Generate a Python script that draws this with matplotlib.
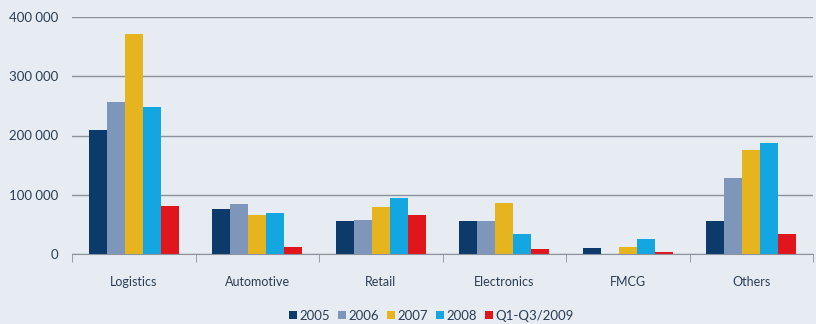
import numpy as np
import matplotlib
matplotlib.use("Agg")
import matplotlib.pyplot as plt
from matplotlib.ticker import FuncFormatter

# volumes by sector and year
sectors = ["Logistics", "Automotive", "Retail", "Electronics", "FMCG", "Others"]
years = ["2005", "2006", "2007", "2008", "Q1-Q3/2009"]
v2005 = [209000, 76000, 55000, 56000, 10500, 56000]
v2006 = [256000, 84000, 57000, 55000, 0, 129000]
v2007 = [371000, 66000, 79000, 86000, 12000, 175000]
v2008 = [248000, 69000, 94000, 34000, 26000, 188000]
v2009 = [81000, 12000, 66000, 8000, 3000, 33000]
series = [v2005, v2006, v2007, v2008, v2009]
colors = ["#0b3a6b", "#7f96bb", "#e5b41f", "#13a6e1", "#e0161c"]

bg = "#e6ecf2"
txt = "#2b3d55"
plt.rcParams['font.family'] = ['Lato', 'DejaVu Sans']

fig = plt.figure(figsize=(8.16, 3.24), dpi=100, facecolor=bg)
ax = fig.add_axes([72/816, 1-254/324, 741/816, 237/324], facecolor=bg)

x = np.arange(len(sectors))
w = 0.145
for i, (vals, c, lab) in enumerate(zip(series, colors, years)):
    ax.bar(x + (i - 2) * w, vals, width=w, color=c, label=lab, zorder=3)

ax.set_ylim(0, 400000)
ax.set_xlim(-0.5, len(sectors) - 0.5)
ax.set_yticks([0, 100000, 200000, 300000, 400000])
ax.yaxis.set_major_formatter(FuncFormatter(lambda v, p: f"{int(v):,}".replace(",", " ")))
ax.grid(axis="y", color="#8c929b", linewidth=1.0, zorder=0)
for s in ["top", "right", "left"]:
    ax.spines[s].set_visible(False)
ax.spines["bottom"].set_color("#8c929b")
ax.spines["bottom"].set_zorder(4)

ax.set_xticks(x)
ax.set_xticklabels(sectors)
ax.set_xticks(np.arange(-0.5, len(sectors)), minor=True)
ax.tick_params(axis="x", which="major", length=0, pad=16, labelsize=9, labelcolor=txt)
ax.tick_params(axis="x", which="minor", length=6, color="#8c929b")
ax.tick_params(axis="y", length=0, pad=10, labelsize=9.5, labelcolor=txt)

leg = ax.legend(loc="center", bbox_to_anchor=(0.485, -0.26), ncol=5, frameon=False,
                handlelength=0.65, handleheight=0.65, handletextpad=0.2, columnspacing=0.55,
                fontsize=9.5)
for t in leg.get_texts():
    t.set_color(txt)

fig.savefig("out.png", dpi=100, facecolor=bg)
